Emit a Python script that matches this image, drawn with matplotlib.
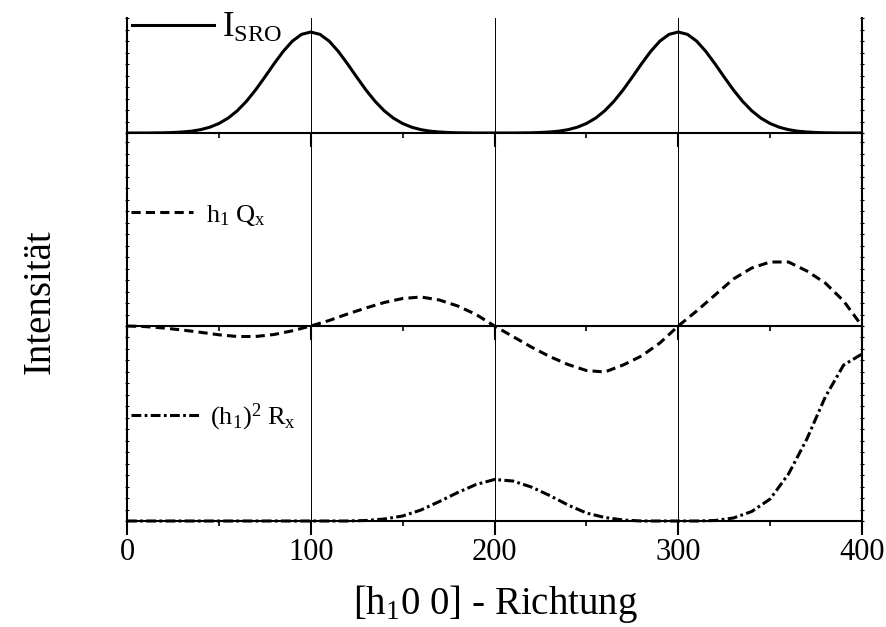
import matplotlib.pyplot as plt
from matplotlib.ticker import MultipleLocator
import numpy as np

plt.rcParams['font.family'] = 'Liberation Serif'
plt.rcParams['mathtext.fontset'] = 'custom'
plt.rcParams['mathtext.rm'] = 'Liberation Serif'
plt.rcParams['mathtext.it'] = 'Liberation Serif:italic'
plt.rcParams['mathtext.bf'] = 'Liberation Serif:bold'

# h1 in 5er-Schritten (oben) und 10er-Schritten (Mitte, unten)
h_fein = np.arange(0, 401, 5)
h_grob = np.arange(0, 401, 10)

# I_SRO, normiert auf das Maximum
i_sro = [0, 0, 0, 0.001, 0.002, 0.005, 0.010, 0.018, 0.033, 0.057, 0.094,
         0.147, 0.220, 0.314, 0.427, 0.554, 0.685, 0.808, 0.910, 0.977, 1.0,
         0.977, 0.910, 0.808, 0.685, 0.554, 0.427, 0.314, 0.220, 0.147, 0.094,
         0.057, 0.033, 0.018, 0.010, 0.005, 0.002, 0.001, 0, 0, 0,
         0, 0, 0.001, 0.002, 0.005, 0.010, 0.018, 0.033, 0.057, 0.094,
         0.147, 0.220, 0.314, 0.427, 0.554, 0.685, 0.808, 0.910, 0.977, 1.0,
         0.977, 0.910, 0.808, 0.685, 0.554, 0.427, 0.314, 0.220, 0.147, 0.094,
         0.057, 0.033, 0.018, 0.010, 0.005, 0.002, 0.001, 0, 0, 0]

# h1 * Qx (willk. Einheiten)
h1_qx = [0, -0.6, -2, -4, -6.3, -8.8, -10.5, -10.5, -8.5, -4.8,
         0, 5.5, 12, 18, 23.5, 27.5, 29, 26, 20, 11.5,
         0, -10.5, -21, -30.5, -38.5, -44.5, -46, -39, -30, -17,
         0, 15, 31, 47, 58, 64, 64, 55, 43, 25, 0]

# (h1)^2 * Rx (willk. Einheiten)
h1sq_rx = [0, 0, 0, 0, 0, 0, 0, 0, 0, 0,
           0, 0, 0, 0.5, 2, 5, 11, 19.5, 28.5, 36.5,
           41.5, 40, 34, 25.5, 16, 8, 3.5, 1, 0, 0,
           0, 0, 0.5, 3, 9.5, 22, 47, 82, 124, 156, 167]

fig = plt.figure(figsize=(8.86, 6.27), dpi=100)
links = 127 / 886
breite = 735 / 886
ax_o = fig.add_axes([links, 1 - 133 / 627, breite, 115 / 627])
ax_m = fig.add_axes([links, 1 - 326 / 627, breite, 193 / 627])
ax_u = fig.add_axes([links, 1 - 521 / 627, breite, 195 / 627])

ax_o.set_ylim(0, 1.139)
ax_m.set_ylim(0, 193)
ax_u.set_ylim(0, 195)
y_schritt = {ax_o: 0.1139, ax_m: 11.5, ax_u: 11.5}

for ax in (ax_o, ax_m, ax_u):
    ax.patch.set_visible(False)
    ax.set_xlim(0, 400)
    ax.spines['top'].set_visible(False)
    for s in ('left', 'right', 'bottom'):
        ax.spines[s].set_linewidth(1.5)
    ax.xaxis.set_major_locator(MultipleLocator(100))
    ax.xaxis.set_minor_locator(MultipleLocator(50))
    ax.yaxis.set_major_locator(MultipleLocator(y_schritt[ax]))
    ax.tick_params(axis='x', which='major', direction='out', length=10, width=1.5,
                   labelsize=22, pad=2)
    ax.tick_params(axis='x', which='minor', direction='out', length=3.5, width=1.2)
    ax.tick_params(axis='y', which='major', direction='inout', length=3, width=0.8,
                   left=True, right=True, labelleft=False)
    for v in (100, 200, 300):
        ax.axvline(v, color='black', lw=0.7, zorder=1)

ax_o.tick_params(axis='x', labelbottom=False)
ax_m.tick_params(axis='x', labelbottom=False)

ax_o.plot(h_fein, i_sro, color='black', lw=2.2, label=r'$\mathrm{I}_{\mathrm{SRO}}$')
ax_m.plot(h_grob, h1_qx, color='black', lw=2.2, dashes=(3, 1.7), clip_on=False,
          label=r'$\mathrm{h}_1\ \mathrm{Q}_\mathrm{x}$')
ax_u.plot(h_grob, h1sq_rx, color='black', lw=2.2, dashes=(3.2, 1.1, 0.9, 1.1),
          clip_on=False, label=r'$(\mathrm{h}_1)^2\ \mathrm{R}_\mathrm{x}$')

ax_o.legend(loc='center left', bbox_to_anchor=(0.007, 0.91), frameon=False,
            fontsize=25, handlelength=2.35, handletextpad=0.25,
            borderpad=0, borderaxespad=0)
ax_m.legend(loc='center left', bbox_to_anchor=(0.005, 0.575), frameon=False,
            fontsize=19, handlelength=2.35, handletextpad=0.5,
            borderpad=0, borderaxespad=0)
ax_u.legend(loc='center left', bbox_to_anchor=(0.005, 0.533), frameon=False,
            fontsize=19, handlelength=2.6, handletextpad=0.4,
            borderpad=0, borderaxespad=0)

fig.text(495 / 886, 1 - 614 / 627, r'[h$_1$0 0] - Richtung', ha='center',
         va='baseline', fontsize=28)
fig.text(40 / 886, 1 - 302 / 627, 'Intensität', rotation=90, ha='center',
         va='center', fontsize=28)

fig.savefig('out.png', dpi=100)
